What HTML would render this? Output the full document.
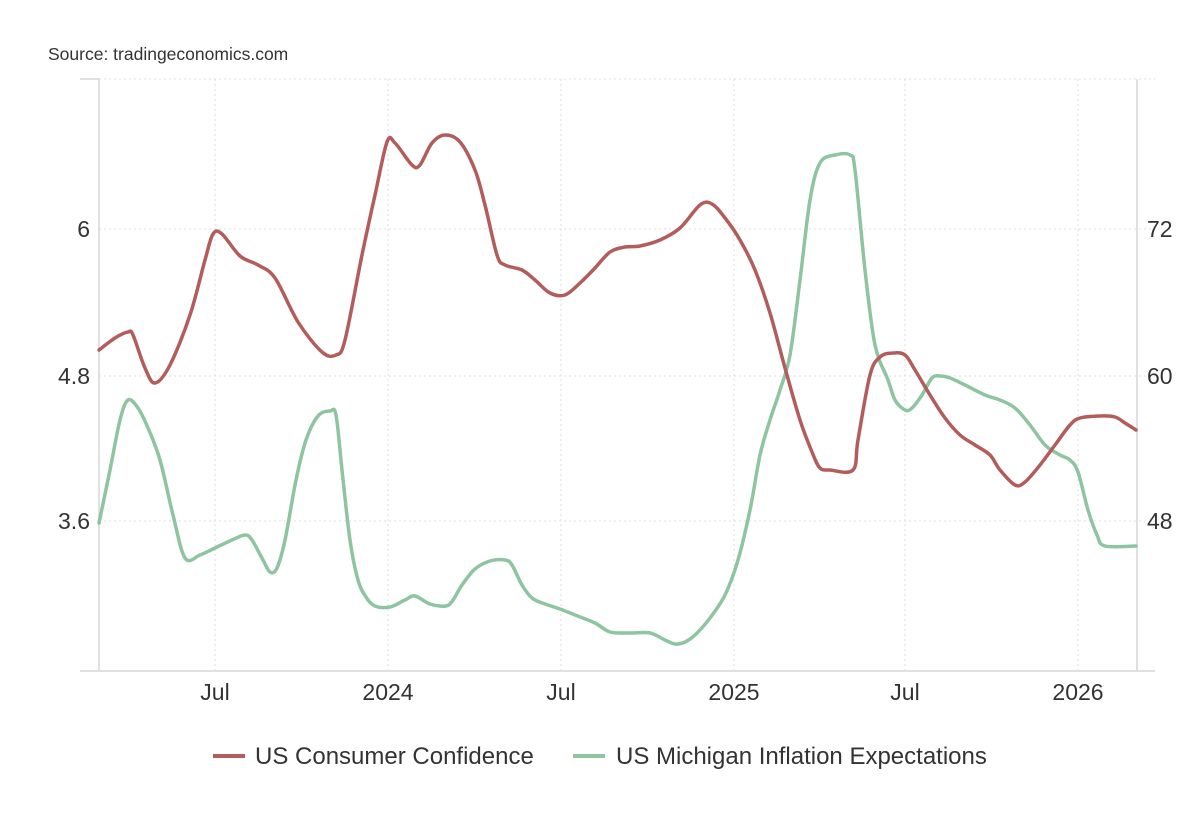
<!DOCTYPE html>
<html><head><style>
body{margin:0;background:#fff;}
svg text{font-family:"Liberation Sans",Arial,sans-serif;fill:#333;}
</style></head><body>
<svg width="1200" height="820" viewBox="0 0 1200 820" xmlns="http://www.w3.org/2000/svg">
<text x="48" y="60" font-size="17.5">Source: tradingeconomics.com</text>
<g stroke="#ddd" stroke-width="1" stroke-dasharray="2,3" fill="none">
<line x1="99" y1="79" x2="1155" y2="79"/>
<line x1="99" y1="229" x2="1155" y2="229"/>
<line x1="99" y1="376" x2="1155" y2="376"/>
<line x1="99" y1="521" x2="1155" y2="521"/>
<line x1="215" y1="79" x2="215" y2="670"/>
<line x1="388" y1="79" x2="388" y2="670"/>
<line x1="561" y1="79" x2="561" y2="670"/>
<line x1="734" y1="79" x2="734" y2="670"/>
<line x1="905" y1="79" x2="905" y2="670"/>
<line x1="1078" y1="79" x2="1078" y2="670"/>
</g>
<g stroke="#e0e0e0" stroke-width="2" fill="none">
<line x1="99" y1="79" x2="99" y2="671"/>
<line x1="1137" y1="79" x2="1137" y2="671"/>
<line x1="80" y1="671" x2="1155" y2="671"/>
<line x1="80" y1="79" x2="99" y2="79"/>
</g>
<g font-size="23">
<text x="90" y="237" text-anchor="end">6</text>
<text x="90" y="384" text-anchor="end">4.8</text>
<text x="90" y="529" text-anchor="end">3.6</text>
<text x="1147" y="237">72</text>
<text x="1147" y="384">60</text>
<text x="1147" y="529">48</text>
<text x="215" y="700" text-anchor="middle">Jul</text>
<text x="388" y="700" text-anchor="middle">2024</text>
<text x="561" y="700" text-anchor="middle">Jul</text>
<text x="734" y="700" text-anchor="middle">2025</text>
<text x="905" y="700" text-anchor="middle">Jul</text>
<text x="1078" y="700" text-anchor="middle">2026</text>
</g>
<path id="g" fill="none" stroke="#8ec5a0" stroke-width="3.5" stroke-linejoin="round" stroke-linecap="round" data-p="99,523 110,470 120,420 128,400 138,408 148,428 160,460 173,515 185,558 200,555 215,548 232,540 245,535 252,540 263,560 270,572 277,568 285,540 296,480 306,440 318,416 330,411 336,415 342,470 350,540 358,580 366,597 375,606 390,607 405,600 415,596 430,604 446,606 453,600 462,585 475,569 490,561 505,560 512,565 522,585 532,598 545,604 560,609 575,615 595,623 610,632 630,633 650,633 665,640 675,644 685,642 695,635 710,618 725,595 738,560 750,510 760,455 770,420 780,390 790,355 800,280 810,200 820,163 835,155 850,155 855,170 865,270 875,345 888,380 895,400 905,410 912,408 922,395 932,378 940,376 950,378 965,385 985,395 1000,400 1015,408 1030,425 1045,445 1060,455 1070,460 1078,472 1088,510 1097,535 1105,546 1136,546"/>
<path id="r" fill="none" stroke="#b35c5c" stroke-width="3.5" stroke-linejoin="round" stroke-linecap="round" data-p="99,350 115,338 128,332 133,335 145,368 155,383 170,365 190,315 205,260 213,234 222,234 240,256 258,265 275,278 298,322 322,352 336,355 345,340 362,255 375,195 387,142 395,143 412,165 420,165 432,143 445,135 460,142 475,170 485,205 497,255 505,265 522,270 535,280 550,293 565,295 580,283 595,268 610,252 625,247 640,246 660,240 680,228 700,205 712,204 725,218 740,240 755,270 770,313 785,368 800,420 812,452 820,468 830,470 853,470 858,440 870,375 880,357 893,353 905,355 915,370 930,395 945,418 960,435 975,445 990,455 1000,470 1015,485 1025,482 1040,465 1055,445 1070,425 1080,418 1100,416 1115,417 1125,423 1136,430"/>
<line x1="213" y1="756" x2="245" y2="756" stroke="#b35c5c" stroke-width="4"/>
<text x="255" y="764" font-size="24">US Consumer Confidence</text>
<line x1="573" y1="756" x2="605" y2="756" stroke="#8ec5a0" stroke-width="4"/>
<text x="616" y="764" font-size="24">US Michigan Inflation Expectations</text>
</svg>
<script>
["g","r"].forEach(function(id){
var el=document.getElementById(id);
var p=el.getAttribute("data-p").split(" ").map(function(s){return s.split(",").map(Number);});
var d="M"+p[0][0]+","+p[0][1];
for(var i=0;i<p.length-1;i++){
var p0=p[i-1]||p[i],p1=p[i],p2=p[i+1],p3=p[i+2]||p2;
var c1x=p1[0]+(p2[0]-p0[0])/6,c1y=p1[1]+(p2[1]-p0[1])/6;
var c2x=p2[0]-(p3[0]-p1[0])/6,c2y=p2[1]-(p3[1]-p1[1])/6;
d+=" C"+c1x.toFixed(1)+","+c1y.toFixed(1)+" "+c2x.toFixed(1)+","+c2y.toFixed(1)+" "+p2[0]+","+p2[1];
}
el.setAttribute("d",d);
});
</script>
</body></html>
